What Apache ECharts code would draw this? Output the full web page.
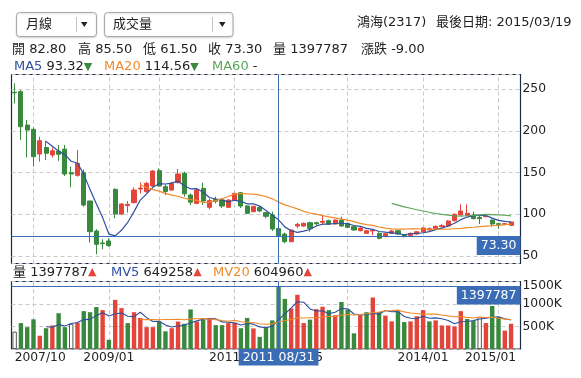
<!DOCTYPE html>
<html><head><meta charset="utf-8">
<script src="https://cdn.jsdelivr.net/npm/echarts@6/dist/echarts.min.js"></script>
<style>html,body{margin:0;padding:0;background:#fff}#c{width:581px;height:378px}</style>
</head><body><div id="c"></div>
<script>
// ---- data ----
const dates = ['2007/10','2007/11','2007/12',
 '2008/01','2008/02','2008/03','2008/04','2008/05','2008/06','2008/07','2008/08','2008/09','2008/10','2008/11','2008/12',
 '2009/01','2009/06','2009/07','2009/08','2009/09','2009/10','2009/11','2009/12',
 '2010/01','2010/02','2010/03','2010/04','2010/05','2010/06','2010/07','2010/08','2010/09','2010/10','2010/11','2010/12',
 '2011/01','2011/02','2011/03','2011/04','2011/05','2011/06','2011/07','2011/08',
 '2012/03','2012/04','2012/05','2012/06','2012/07','2012/08','2012/09','2012/10','2012/11','2012/12',
 '2013/01','2013/02','2013/03','2013/04','2013/05','2013/06','2013/07','2013/08','2013/09','2013/10','2013/11','2013/12',
 '2014/01','2014/02','2014/03','2014/04','2014/05','2014/06','2014/07','2014/08','2014/09','2014/10','2014/11','2014/12',
 '2015/01','2015/02','2015/03'];
const opens  = [246,246.8,206.9,201.7,172.2,180,171,175.7,178,149.8,146.6,149.8,115.9,79.9,65.6,68,129.8,100.3,110.3,113.9,130.2,127,133.8,152.2,133,129,137.8,149,123,113,131,108.3,118,117,108.3,117,125.8,109.9,103.1,108.3,101.9,99.1,82.8,76.3,67.2,85.9,85.9,89.9,89.9,90.3,92.3,88.3,93.1,89.1,85.1,80.3,77.1,79.9,77.1,73.2,77.1,80.3,75.5,74.4,76.3,79.1,81.1,82.7,85.1,85.9,92.3,99.1,98.7,99.1,96.3,97.1,93.1,88.7,87.9,86.7];
const highs  = [256.8,248.8,212.9,204,192.9,188,180,183,183,157,177,153.8,116,82,70,71.2,131,113,115.9,132.2,138.2,139,153,155,135.8,139,154.2,151,125,131,137.8,119,121,118.7,117.9,125.8,126.6,111,109.9,109.9,102.7,103.1,85.5,77.9,81.9,89.9,89.9,91.1,91.1,98.3,93.5,93.9,97.1,89.9,85.9,84.3,81.5,81.9,78.3,77.9,81.1,81.1,76.3,77.9,79.9,84.7,84.3,86.7,88.3,93.1,101.1,111.9,111.9,103.1,97.9,99.1,93.9,89.9,89.5,91.5];
const lows   = [232.8,188.9,168.2,157,163,165,168,164,145.8,132.2,145,109,66,52,58,61.2,95.1,99,101.9,113,125,125.8,133,133,123,128.2,137,121,111,112,111,105.9,113,107.5,107.5,116.3,107.5,100.3,102.3,102.3,95.1,79.9,61.5,65.2,66.4,83.1,85.1,79.1,86.7,87.1,87.5,87.5,85.1,83.5,80.3,79.5,76.3,74.8,70,72.4,76.3,75.1,72.4,73.6,75.5,78.3,80.3,81.9,84.3,85.1,91.1,98.7,98.3,93.9,88.3,96.3,85.1,82.7,86.7,86.3];
const closes = [245.5,204.9,200.9,169,188.1,173,176,171.8,148.2,148.2,161,111,79.1,64,64.8,62.4,100.3,112.3,111.9,129,131.4,137,151.8,133.8,127.3,137,148.2,124.5,114.5,129,115.8,116.3,115.5,109.8,117,125,109.8,101.1,109.5,104,97.5,82.3,73.3,67.2,81.1,87.9,89.1,83.1,88.7,91.5,88.3,93.1,85.9,84.3,81.1,83.5,80.3,80.7,71.2,76.7,79.9,76.3,73.2,77.1,79.1,83.5,82.7,85.5,86.3,91.9,99.9,103.9,101.1,94.7,94.7,97.9,88.3,87.9,88.7,90.7];
const volumes = [386000,576000,485000,659000,295000,462000,523000,795000,485000,561000,583000,841000,818000,932000,864000,205000,1091000,909000,576000,818000,689000,485000,485000,610000,394000,462000,610000,561000,880000,610000,652000,690000,530000,530000,576000,576000,462000,690000,457000,270000,485000,636000,1397787,1114000,902000,1205000,576000,652000,886000,939000,864000,750000,1045000,879000,348000,750000,818000,1144000,818000,742000,614000,841000,598000,614000,727000,864000,614000,636000,523000,523000,500000,841000,667000,621000,712000,576000,955000,712000,409000,561000];
const tickLabels = ['2007/10','2009/01','2011/01','2012/05','2014/01','2015/01'];
const pointerIndex = 42;
const pointerDate = '2011 08/31';
const stockTitle = '鴻海(2317)';
const lastDateText = '最後日期: 2015/03/19';
const maTexts = {ma5:'93.32', ma20:'114.56', ma60:'-', mv5:'649258', mv20:'604960'};

// ---- helpers ----
const RED='#e3453a', GREEN='#38893d', BLUE='#2e4f9f', ORANGE='#f08a2a', LGREEN='#5aa55a', PBLUE='#3a6db5';
const FONT='"DejaVu Sans","Noto Sans CJK TC",sans-serif';
function ma(arr,n){return arr.map((v,i)=>{if(i<n)return '-';let s=0;for(let k=i-n+1;k<=i;k++)s+=arr[k];return +(s/n).toFixed(3);});}
const candle = dates.map((d,i)=>[opens[i],closes[i],lows[i],highs[i]]);
const volData = volumes.map((v,i)=>{
  let style;
  if(i===0 || closes[i]===closes[i-1]) style={color:'#fff',borderColor:'#555',borderWidth:1};
  else style={color: closes[i]>closes[i-1]?RED:GREEN};
  return {value:v,itemStyle:style};
});
const axisCats = dates.concat(['']);
const gridMarks = dates.filter(d=>d.endsWith('/01'));
const dashed = {color:'#c9c9c9',type:[4,3],width:1};
const gridLineMark = {silent:true,symbol:['none','none'],z:1,animation:false,label:{show:false},lineStyle:dashed,emphasis:{disabled:true},data:gridMarks.map(d=>({xAxis:d}))};
const pLabel = {show:true,color:'#fff',backgroundColor:PBLUE,fontFamily:FONT,fontSize:12.5,padding:[3,4,3,4],distance:0};

const chart = echarts.init(document.getElementById('c'),null,{renderer:'canvas'});
function txt(x,y,text,rich,extra){return Object.assign({type:'text',x:x,y:y,silent:true,style:{text:text,font:'13px '+FONT,fill:'#222',verticalAlign:'middle',rich:rich||{}}},extra||{});}
const richTri = {up:{fill:RED,fontSize:11,fontFamily:FONT},dn:{fill:GREEN,fontSize:11,fontFamily:FONT},b:{fill:BLUE,fontSize:13,fontFamily:FONT},o:{fill:ORANGE,fontSize:13,fontFamily:FONT},g:{fill:LGREEN,fontSize:13,fontFamily:FONT}};
const pc = closes[pointerIndex]-closes[pointerIndex-1];

chart.setOption({
  animation:false,
  grid:[
    {left:11.5,top:74.5,width:509,height:189,show:true,borderColor:'#1d2a44',borderWidth:1.2},
    {left:11.5,top:281.5,width:509,height:67.5,show:true,borderColor:'#1d2a44',borderWidth:1.2}
  ],
  xAxis:[
    {type:'category',gridIndex:0,data:axisCats,boundaryGap:true,axisLine:{show:false},axisTick:{show:false},axisLabel:{show:false},splitLine:{show:false}},
    {type:'category',gridIndex:1,data:axisCats,boundaryGap:true,axisLine:{show:false},axisTick:{show:false},splitLine:{show:false},
      axisLabel:{show:true,margin:3,color:'#222',fontFamily:FONT,fontSize:12.3,alignMinLabel:'left',
        interval:(i,v)=>tickLabels.indexOf(v)>=0,
        formatter:(v)=> v===tickLabels[tickLabels.length-1]?'{r|'+v+'}':v,
        rich:{r:{padding:[0,16,0,0],color:'#222',fontFamily:FONT,fontSize:12.3}}}}
  ],
  yAxis:[
    {type:'value',gridIndex:0,position:'right',min:41,max:267.4,splitNumber:5,scale:true,
      axisLine:{show:false},axisTick:{show:false},
      axisLabel:{margin:2,color:'#222',fontFamily:FONT,fontSize:12.3,showMinLabel:false,showMaxLabel:false},
      splitLine:{show:true,lineStyle:dashed}},
    {type:'value',gridIndex:1,position:'right',min:0,max:1500000,interval:500000,
      axisLine:{show:false},axisTick:{show:false},
      axisLabel:{margin:2,color:'#222',fontFamily:FONT,fontSize:12.3,showMinLabel:false,
        formatter:(v)=> v>=1500000?'{t|'+(v/1000)+'K}':(v/1000)+'K',
        rich:{t:{padding:[9,0,0,0],color:'#222',fontFamily:FONT,fontSize:12.3}}},
      splitLine:{show:true,lineStyle:dashed}}
  ],
  series:[
    {type:'candlestick',xAxisIndex:0,yAxisIndex:0,data:candle,barWidth:4.6,z:3,
      itemStyle:{color:RED,color0:GREEN,borderColor:RED,borderColor0:GREEN,borderWidth:1},
      markLine:{silent:true,symbol:['none','none'],animation:false,lineStyle:{color:PBLUE,width:1,type:'solid'},label:{show:false},emphasis:{disabled:true},
        data:[{xAxis:dates[pointerIndex]},
              {yAxis:closes[pointerIndex],label:Object.assign({position:'insideEndBottom',formatter:closes[pointerIndex].toFixed(2)},pLabel)}]}},
    {type:'line',xAxisIndex:0,yAxisIndex:0,data:ma(closes,5),symbol:'none',lineStyle:{color:BLUE,width:1.2},z:4},
    {type:'line',xAxisIndex:0,yAxisIndex:0,data:ma(closes,20),symbol:'none',lineStyle:{color:ORANGE,width:1.2},z:4},
    {type:'line',xAxisIndex:0,yAxisIndex:0,data:ma(closes,60),symbol:'none',lineStyle:{color:LGREEN,width:1.2},z:4,markLine:gridLineMark},
    {type:'bar',xAxisIndex:1,yAxisIndex:1,data:volData,barWidth:4.4,z:3,
      markLine:{silent:true,symbol:['none','none'],animation:false,lineStyle:{color:PBLUE,width:1,type:'solid'},label:{show:false},emphasis:{disabled:true},
        data:[{xAxis:dates[pointerIndex],label:Object.assign({position:'start',formatter:pointerDate},pLabel,{padding:[2,4,2,4]})},
              {yAxis:volumes[pointerIndex],label:Object.assign({position:'insideEndBottom',formatter:String(volumes[pointerIndex])},pLabel)}]}},
    {type:'line',xAxisIndex:1,yAxisIndex:1,data:ma(volumes,5),symbol:'none',lineStyle:{color:BLUE,width:1.1},z:4},
    {type:'line',xAxisIndex:1,yAxisIndex:1,data:ma(volumes,20),symbol:'none',lineStyle:{color:ORANGE,width:1.1},z:4,markLine:gridLineMark}
  ],
  graphic:[
    {type:'rect',silent:true,shape:{x:16.5,y:12.5,width:80,height:24,r:3},style:{fill:'#fff',stroke:'#a9a9a9',lineWidth:1,shadowBlur:2,shadowColor:'rgba(0,0,0,0.15)',shadowOffsetY:1}},
    {type:'line',silent:true,shape:{x1:76.5,y1:17,x2:76.5,y2:32},style:{stroke:'#c4c4c4',lineWidth:1}},
    {type:'polygon',silent:true,shape:{points:[[81,22],[87.5,22],[84.25,27]]},style:{fill:'#222'}},
    txt(26,25,'月線'),
    {type:'rect',silent:true,shape:{x:104.5,y:12.5,width:128.5,height:24,r:3},style:{fill:'#fff',stroke:'#a9a9a9',lineWidth:1,shadowBlur:2,shadowColor:'rgba(0,0,0,0.15)',shadowOffsetY:1}},
    {type:'line',silent:true,shape:{x1:212.5,y1:17,x2:212.5,y2:32},style:{stroke:'#c4c4c4',lineWidth:1}},
    {type:'polygon',silent:true,shape:{points:[[219,22],[225.5,22],[222.25,27]]},style:{fill:'#222'}},
    txt(113,25,'成交量'),
    txt(357,23,stockTitle),
    txt(436,23,lastDateText),
    txt(12,50,'開 '+opens[pointerIndex].toFixed(2)),
    txt(78,50,'高 '+highs[pointerIndex].toFixed(2)),
    txt(143,50,'低 '+lows[pointerIndex].toFixed(2)),
    txt(208,50,'收 '+closes[pointerIndex].toFixed(2)),
    txt(273,50,'量 '+volumes[pointerIndex]),
    txt(361,50,'漲跌 '+pc.toFixed(2)),
    txt(14,67,'{b|MA5} '+maTexts.ma5+'{dn|▼}',richTri),
    txt(104,67,'{o|MA20} '+maTexts.ma20+'{dn|▼}',richTri),
    txt(212,67,'{g|MA60} '+maTexts.ma60,richTri),
    txt(13,272.5,'量 '+volumes[pointerIndex]+'{up|▲}',richTri),
    txt(111,272.5,'{b|MV5} '+maTexts.mv5+'{up|▲}',richTri),
    txt(213,272.5,'{o|MV20} '+maTexts.mv20+'{up|▲}',richTri)
  ]
});
</script></body></html>
